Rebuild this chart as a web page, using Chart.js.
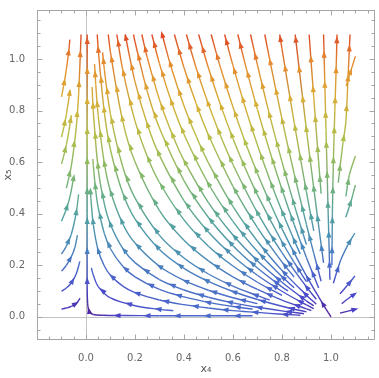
<!DOCTYPE html>
<html lang="en">
<head>
  <meta charset="UTF-8">
  <title>Stream plot x4 / x5</title>
  <script src="https://cdn.jsdelivr.net/npm/chart.js"></script>
  <style>
    body { margin: 0; background: #fff; }
  </style>
</head>
<body>
  <canvas id="streamChart" width="379" height="378"></canvas>

  <script>
    // streamlines, each listed in the direction of flow
    const bottomLines = [
      [[0.68,0.004],[0.5,0.004],[0.3,0.004],[0.15,0.005],[0.07,0.006],[0.03,0.009],[0.013,0.02],[0.007,0.05],[0.005,0.12],[0.005,0.4],[0.005,0.7],[0.005,1.095]],
      [[0.357,0.024],[0.3,0.029],[0.2,0.043],[0.1,0.073],[0.05,0.117],[0.03,0.162],[0.022,0.19]],
      [[0.875,0.006],[0.8,0.01],[0.7,0.017],[0.6,0.024],[0.5,0.034],[0.4,0.047],[0.3,0.065],[0.2,0.094],[0.15,0.119],[0.1,0.161],[0.075,0.197],[0.05,0.257],[0.03,0.357],[0.02,0.46],[0.018,0.491]],
      [[0.68,0.03],[0.6,0.04],[0.5,0.056],[0.4,0.077],[0.3,0.106],[0.2,0.155],[0.15,0.196],[0.1,0.264],[0.075,0.323],[0.05,0.423],[0.04,0.488],[0.03,0.586],[0.028,0.612]],
      [[0.89,0.012],[0.8,0.023],[0.7,0.037],[0.6,0.054],[0.5,0.076],[0.4,0.104],[0.3,0.144],[0.2,0.21],[0.15,0.265],[0.1,0.358],[0.075,0.438],[0.05,0.573],[0.03,0.795],[0.025,0.891]],
      [[0.7,0.051],[0.6,0.074],[0.5,0.103],[0.4,0.141],[0.3,0.196],[0.2,0.286],[0.15,0.361],[0.1,0.487],[0.075,0.595],[0.05,0.78],[0.04,0.9],[0.035,0.98]]
    ];

    const upperLines = [
      [[0.9,0.019],[0.8,0.041],[0.7,0.067],[0.6,0.098],[0.5,0.137],[0.4,0.188],[0.3,0.261],[0.2,0.38],[0.15,0.48],[0.1,0.648],[0.075,0.792],[0.05,1.037],[0.046,1.095]],
      [[0.75,0.065],[0.7,0.082],[0.6,0.119],[0.5,0.166],[0.4,0.228],[0.3,0.316],[0.2,0.461],[0.15,0.582],[0.1,0.785],[0.075,0.959],[0.068,1.025]],
      [[0.92,0.024],[0.9,0.031],[0.8,0.065],[0.7,0.106],[0.6,0.155],[0.5,0.217],[0.4,0.297],[0.3,0.412],[0.2,0.601],[0.15,0.759],[0.1,1.025],[0.091,1.095]],
      [[0.8,0.083],[0.7,0.134],[0.6,0.197],[0.5,0.274],[0.4,0.376],[0.3,0.521],[0.25,0.623],[0.2,0.76],[0.15,0.959],[0.126,1.095]],
      [[0.93,0.032],[0.9,0.046],[0.8,0.099],[0.7,0.161],[0.6,0.236],[0.5,0.329],[0.4,0.451],[0.3,0.626],[0.25,0.748],[0.2,0.912],[0.16,1.095]],
      [[0.825,0.1],[0.8,0.116],[0.7,0.189],[0.6,0.276],[0.5,0.385],[0.4,0.528],[0.3,0.732],[0.25,0.875],[0.2,1.067],[0.194,1.095]],
      [[0.93,0.043],[0.9,0.062],[0.8,0.134],[0.7,0.217],[0.6,0.317],[0.5,0.443],[0.4,0.607],[0.35,0.713],[0.3,0.842],[0.25,1.006],[0.228,1.095]],
      [[0.85,0.113],[0.8,0.156],[0.7,0.253],[0.6,0.37],[0.5,0.516],[0.4,0.708],[0.35,0.831],[0.3,0.982],[0.269,1.095]],
      [[0.94,0.049],[0.9,0.084],[0.8,0.18],[0.7,0.293],[0.6,0.428],[0.5,0.597],[0.45,0.7],[0.4,0.819],[0.35,0.961],[0.311,1.095]],
      [[0.85,0.154],[0.8,0.213],[0.7,0.346],[0.6,0.506],[0.5,0.705],[0.45,0.826],[0.4,0.967],[0.361,1.095]],
      [[0.94,0.068],[0.9,0.116],[0.8,0.249],[0.7,0.404],[0.6,0.591],[0.55,0.7],[0.5,0.824],[0.45,0.965],[0.41,1.095]],
      [[0.9,0.136],[0.85,0.211],[0.8,0.291],[0.7,0.473],[0.65,0.577],[0.6,0.692],[0.55,0.82],[0.5,0.965],[0.46,1.095]],
      [[1.0,0.0],[0.99,0.015],[0.98,0.03],[0.95,0.077],[0.9,0.159],[0.85,0.248],[0.8,0.342],[0.75,0.445],[0.7,0.556],[0.65,0.678],[0.6,0.814],[0.55,0.964],[0.511,1.095]],
      [[0.875,0.243],[0.85,0.297],[0.8,0.41],[0.75,0.533],[0.7,0.666],[0.65,0.813],[0.6,0.975],[0.566,1.095]],
      [[0.95,0.112],[0.9,0.23],[0.85,0.358],[0.8,0.495],[0.75,0.643],[0.7,0.804],[0.65,0.98],[0.62,1.095]],
      [[0.9,0.28],[0.85,0.435],[0.8,0.602],[0.75,0.781],[0.7,0.977],[0.672,1.095]],
      [[0.96,0.138],[0.93,0.246],[0.9,0.358],[0.85,0.555],[0.8,0.768],[0.75,0.998],[0.73,1.095]],
      [[0.93,0.333],[0.9,0.485],[0.85,0.753],[0.8,1.041],[0.791,1.095]],
      [[0.97,0.209],[0.96,0.28],[0.93,0.499],[0.9,0.726],[0.854,1.095]],
      [[0.96,0.477],[0.95,0.6],[0.93,0.85],[0.911,1.095]],
      [[0.996,0.144],[0.99,0.36],[0.98,0.723],[0.975,0.909],[0.97,1.095]]
    ];

    const leftLines = [
      [[-0.1,0.03],[-0.08,0.034],[-0.06,0.04],[-0.04,0.052],[-0.024,0.072]],
      [[-0.1,0.099],[-0.08,0.112],[-0.06,0.131],[-0.04,0.166],[-0.025,0.215]],
      [[-0.1,0.177],[-0.08,0.2],[-0.06,0.233],[-0.045,0.27],[-0.035,0.317]],
      [[-0.1,0.243],[-0.08,0.274],[-0.06,0.32],[-0.04,0.403],[-0.03,0.475]],
      [[-0.1,0.371],[-0.08,0.418],[-0.065,0.468],[-0.05,0.542]],
      [[-0.08,0.499],[-0.06,0.584],[-0.04,0.733],[-0.03,0.865],[-0.02,1.095]],
      [[-0.1,0.593],[-0.09,0.627],[-0.08,0.668],[-0.07,0.718],[-0.06,0.782]],
      [[-0.1,0.697],[-0.09,0.737],[-0.08,0.785],[-0.065,0.879]],
      [[-0.1,0.853],[-0.09,0.902],[-0.08,0.961],[-0.07,1.034],[-0.066,1.075]]
    ];

    const rightLines = [
      [[1.004,0.2],[1.006,0.4],[1.01,0.6],[1.016,0.8],[1.021,0.95],[1.025,1.095]],
      [[1.03,0.52],[1.041,0.612],[1.05,0.68],[1.061,0.756],[1.07,0.93],[1.078,1.095]],
      [[1.062,0.895],[1.08,0.95],[1.1,1.01]],
      [[1.061,0.467],[1.075,0.549],[1.1,0.624]],
      [[1.061,0.386],[1.082,0.448],[1.1,0.511]],
      [[1.01,0.13],[1.04,0.22],[1.07,0.28],[1.098,0.325]],
      [[1.037,0.089],[1.07,0.125],[1.098,0.158]],
      [[1.044,0.051],[1.07,0.07],[1.098,0.089]],
      [[1.037,0.014],[1.07,0.022],[1.098,0.029]]
    ];

    const xTicks = [0, 0.2, 0.4, 0.6, 0.8, 1.0];
    const yTicks = [0, 0.2, 0.4, 0.6, 0.8, 1.0];
    const xMinor = [-0.15,-0.1,-0.05,0.05,0.1,0.15,0.25,0.3,0.35,0.45,0.5,0.55,0.65,0.7,0.75,0.85,0.9,0.95,1.05,1.1,1.15];
    const yMinor = [-0.05,0.05,0.1,0.15,0.25,0.3,0.35,0.45,0.5,0.55,0.65,0.7,0.75,0.85,0.9,0.95,1.05,1.1,1.15];

    // colour ramp by flow speed (purple slow -> red fast)
    const speedStops = [0, 0.1, 0.2, 0.3, 0.42, 0.55, 0.7, 0.85, 1.0, 1.1];
    const stopColors = ['#531d93','#4a45c8','#4a6bc9','#4a8db6','#55a59b','#7fb76e','#b1be48','#d8ae36','#e68a2e','#dd4a27'];

    const hexRgb = h => [1, 3, 5].map(i => parseInt(h.slice(i, i + 2), 16));
    const stopRgb = stopColors.map(hexRgb);

    function colorAt(x, y) {
      const s = Math.hypot(0.8 * Math.abs(x * (1 - x)), y);
      let i = 0;
      while (i < speedStops.length - 2 && s > speedStops[i + 1]) i++;
      let t = (s - speedStops[i]) / (speedStops[i + 1] - speedStops[i]);
      t = Math.max(0, Math.min(1, t));
      const a = stopRgb[i], b = stopRgb[i + 1];
      const c = a.map((v, k) => Math.round(v + (b[k] - v) * t));
      return `rgb(${c[0]},${c[1]},${c[2]})`;
    }

    const canvas = document.getElementById("streamChart");
    const ctx2d = canvas.getContext("2d");

    function segColor(ctx) {
      const p0 = ctx.p0, p1 = ctx.p1;
      const g = ctx2d.createLinearGradient(p0.x, p0.y, p1.x, p1.y);
      g.addColorStop(0, colorAt(p0.parsed.x, p0.parsed.y));
      g.addColorStop(1, colorAt(p1.parsed.x, p1.parsed.y));
      return g;
    }

    const allLines = [...bottomLines, ...upperLines, ...leftLines, ...rightLines];
    const datasets = allLines.map(line => ({
      data: line.map(p => ({ x: p[0], y: p[1] })),
      showLine: true,
      pointRadius: 0,
      borderWidth: 1.4,
      tension: 0.35,
      borderColor: '#4a8db6',
      segment: {
        borderColor: segColor,
        borderDashOffset: ctx => ctx.p0DataIndex * 0.01
      }
    }));

    function drawArrow(ctx, x, y, ang, color) {
      const c = Math.cos(ang), s = Math.sin(ang);
      ctx.fillStyle = color;
      ctx.beginPath();
      ctx.moveTo(x + c * 4, y + s * 4);
      ctx.lineTo(x - c * 3 - s * 2.6, y - s * 3 + c * 2.6);
      ctx.lineTo(x - c * 3 + s * 2.6, y - s * 3 - c * 2.6);
      ctx.closePath();
      ctx.fill();
    }

    const arrowPlugin = {
      id: 'arrows',
      afterDatasetsDraw(chart) {
        const ctx = chart.ctx, xs = chart.scales.x, ys = chart.scales.y;
        const a = chart.chartArea;
        ctx.save();
        ctx.beginPath();
        ctx.rect(a.left, a.top, a.right - a.left, a.bottom - a.top);
        ctx.clip();
        chart.data.datasets.forEach((ds, i) => {
          const pts = chart.getDatasetMeta(i).data.map(p => [p.x, p.y]);
          let acc = 0, next = 15;
          for (let k = 1; k < pts.length; k++) {
            const [x0, y0] = pts[k - 1], [x1, y1] = pts[k];
            const len = Math.hypot(x1 - x0, y1 - y0);
            while (acc + len >= next) {
              const t = (next - acc) / len;
              const px = x0 + t * (x1 - x0), py = y0 + t * (y1 - y0);
              drawArrow(ctx, px, py, Math.atan2(y1 - y0, x1 - x0),
                colorAt(xs.getValueForPixel(px), ys.getValueForPixel(py)));
              next += 30;
            }
            acc += len;
          }
        });
        ctx.restore();
      }
    };

    const framePlugin = {
      id: 'frame',
      beforeDatasetsDraw(chart) {
        const ctx = chart.ctx, a = chart.chartArea;
        const xs = chart.scales.x, ys = chart.scales.y;
        const x0 = Math.round(xs.getPixelForValue(0)) + 0.5;
        const y0 = Math.round(ys.getPixelForValue(0)) + 0.5;
        ctx.save();
        ctx.strokeStyle = '#c4c4c4';
        ctx.lineWidth = 1;
        ctx.beginPath();
        ctx.moveTo(x0, a.top); ctx.lineTo(x0, a.bottom);
        ctx.moveTo(a.left, y0); ctx.lineTo(a.right, y0);
        ctx.stroke();
        ctx.restore();
      },
      afterDraw(chart) {
        const ctx = chart.ctx, a = chart.chartArea;
        const xs = chart.scales.x, ys = chart.scales.y;
        const L = Math.round(a.left) + 0.5, R = Math.round(a.right) - 0.5;
        const T = Math.round(a.top) + 0.5, B = Math.round(a.bottom) - 0.5;
        ctx.save();
        ctx.strokeStyle = '#a6a6a6';
        ctx.lineWidth = 1;
        ctx.strokeRect(L, T, R - L, B - T);
        ctx.beginPath();
        const tx = (v, len) => {
          const p = Math.round(xs.getPixelForValue(v)) + 0.5;
          ctx.moveTo(p, B); ctx.lineTo(p, B - len);
          ctx.moveTo(p, T); ctx.lineTo(p, T + len);
        };
        const ty = (v, len) => {
          const p = Math.round(ys.getPixelForValue(v)) + 0.5;
          ctx.moveTo(L, p); ctx.lineTo(L + len, p);
          ctx.moveTo(R, p); ctx.lineTo(R - len, p);
        };
        xTicks.forEach(v => tx(v, 5));
        xMinor.forEach(v => tx(v, 3));
        yTicks.forEach(v => ty(v, 5));
        yMinor.forEach(v => ty(v, 3));
        ctx.stroke();
        ctx.restore();
      }
    };

    const tickFont = { family: 'DejaVu Sans', size: 10 };

    new Chart(canvas, {
      type: 'scatter',
      data: { datasets },
      options: {
        responsive: false,
        animation: false,
        devicePixelRatio: 1,
        layout: { padding: { top: 1, right: 4, left: 0, bottom: 0 } },
        plugins: { legend: { display: false }, tooltip: { enabled: false } },
        scales: {
          x: {
            type: 'linear', min: -0.2, max: 1.18,
            grid: { display: false }, border: { display: false },
            afterBuildTicks: s => { s.ticks = xTicks.map(v => ({ value: v })); },
            afterFit: s => { s.height = 38; },
            ticks: { autoSkip: false, maxRotation: 0, padding: 4, color: '#666', font: tickFont,
                     callback: v => Number(v).toFixed(1) },
            title: { display: true, text: 'x₄', color: '#555', padding: { top: 0, bottom: 2 },
                     font: { family: 'DejaVu Sans', size: 11 } }
          },
          y: {
            type: 'linear', min: -0.09, max: 1.19,
            grid: { display: false }, border: { display: false },
            afterBuildTicks: s => { s.ticks = yTicks.map(v => ({ value: v })); },
            afterFit: s => { s.width = 37; },
            ticks: { autoSkip: false, padding: 4, color: '#666', font: tickFont,
                     callback: v => Number(v).toFixed(1) },
            title: { display: true, text: 'x₅', color: '#555', padding: { top: 2, bottom: 0 },
                     font: { family: 'DejaVu Sans', size: 11 } }
          }
        }
      },
      plugins: [framePlugin, arrowPlugin]
    });
  </script>
</body>
</html>
